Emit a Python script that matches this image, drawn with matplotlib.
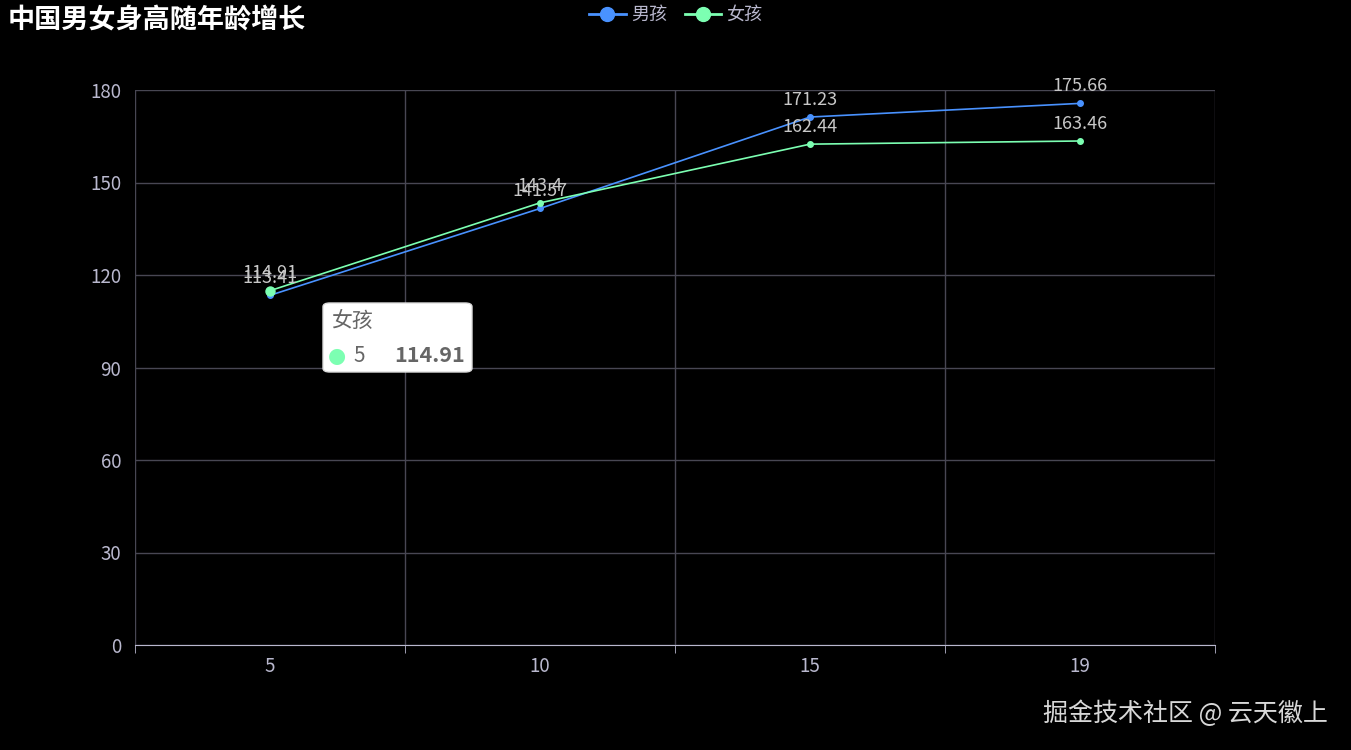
import matplotlib
matplotlib.use("Agg")
import matplotlib.pyplot as plt
from matplotlib.patches import FancyBboxPatch
from matplotlib.lines import Line2D

plt.rcParams['font.family'] = ['Noto Sans CJK SC', 'DejaVu Sans']

# === data ===
ages = ["5", "10", "15", "19"]
boys = [113.41, 141.57, 171.23, 175.66]
girls = [114.91, 143.4, 162.44, 163.46]
series_names = ["男孩", "女孩"]
yticks = [0, 30, 60, 90, 120, 150, 180]

blue = "#4992ff"
green = "#7cffb2"
label_col = "#c8c8c8"
grid_col = "#484753"

fig = plt.figure(figsize=(13.51, 7.5), dpi=100, facecolor="black")
W, H = 1351, 750
ax = fig.add_axes([135 / W, 1 - 645 / H, 1080 / W, 555 / H])
ax.set_facecolor("black")

x = list(range(len(ages)))
ax.plot(x, boys, color=blue, lw=1.2, marker="o", ms=4, zorder=3)
ax.plot(x, girls, color=green, lw=1.2, marker="o", ms=4, zorder=4)
# hovered point
ax.plot([x[0]], [girls[0]], marker="o", ms=6.5, color=green, zorder=5)

for xi, v in zip(x, boys):
    ax.annotate(f"{v:g}", (xi, v), xytext=(0, 6), textcoords="offset points",
                ha="center", va="bottom", color=label_col, fontsize=13, zorder=6)
for xi, v in zip(x, girls):
    ax.annotate(f"{v:g}", (xi, v), xytext=(0, 6), textcoords="offset points",
                ha="center", va="bottom", color=label_col, fontsize=13, zorder=7)

ax.set_xlim(-0.5, len(ages) - 0.5)
ax.set_ylim(0, 180)
ax.set_yticks(yticks)
ax.set_xticks(x)
ax.set_xticklabels(ages)
ax.set_xticks([i - 0.5 for i in range(len(ages) + 1)], minor=True)

ax.grid(False)
for yv in yticks:
    ax.axhline(yv, color=grid_col, lw=1, zorder=1)
for xv in [i - 0.5 for i in range(len(ages) + 1)]:
    ax.axvline(xv, color=grid_col, lw=1, zorder=1)

for s in ["top", "right", "left"]:
    ax.spines[s].set_visible(False)
ax.spines["bottom"].set_color("#b9b8ce")
ax.tick_params(axis="x", which="major", length=0, colors="#b9b8ce", labelsize=13.5, pad=8)
ax.tick_params(axis="x", which="minor", length=6, color="#b9b8ce")
ax.tick_params(axis="y", length=0, colors="#b9b8ce", labelsize=13.5, pad=10)

# title
fig.text(8 / W, 1 - 20 / H, "中国男女身高随年龄增长", color="white", fontsize=19.5,
         fontweight="bold", va="center", ha="left")

# legend
handles = [Line2D([0], [0], color=blue, lw=2, marker="o", ms=10),
           Line2D([0], [0], color=green, lw=2, marker="o", ms=10)]
leg = fig.legend(handles, series_names, loc="center", bbox_to_anchor=(676 / W, 1 - 15 / H),
                 ncol=2, frameon=False, fontsize=13, labelcolor="#b9b8ce",
                 handlelength=2.0, columnspacing=1.0, handletextpad=0.3)

# tooltip
tip = FancyBboxPatch((323 / W, 1 - 372 / H), 149 / W, 69 / H,
                     boxstyle="round,pad=0,rounding_size=0.005", transform=fig.transFigure,
                     facecolor="white", edgecolor="#dddddd", lw=1, zorder=10)
fig.patches.append(tip)
fig.text(331 / W, 1 - 321 / H, series_names[1], color="#666666", fontsize=15,
         va="center", ha="left", zorder=11)
fig.text(337 / W, 1 - 356 / H, "●", color=green, fontsize=15, va="center", ha="center",
         family="DejaVu Sans", zorder=11)
fig.text(353 / W, 1 - 356 / H, ages[0], color="#666666", fontsize=15, va="center", ha="left", zorder=11)
fig.text(465 / W, 1 - 356 / H, f"{girls[0]:g}", color="#666666", fontsize=15.5, fontweight="bold",
         va="center", ha="right", zorder=11)

# watermark
fig.text(1328 / W, 1 - 714 / H, "掘金技术社区 @ 云天徽上", color="#d8d8d8", fontsize=18,
         va="center", ha="right")

fig.savefig("out.png", dpi=100, facecolor="black")
